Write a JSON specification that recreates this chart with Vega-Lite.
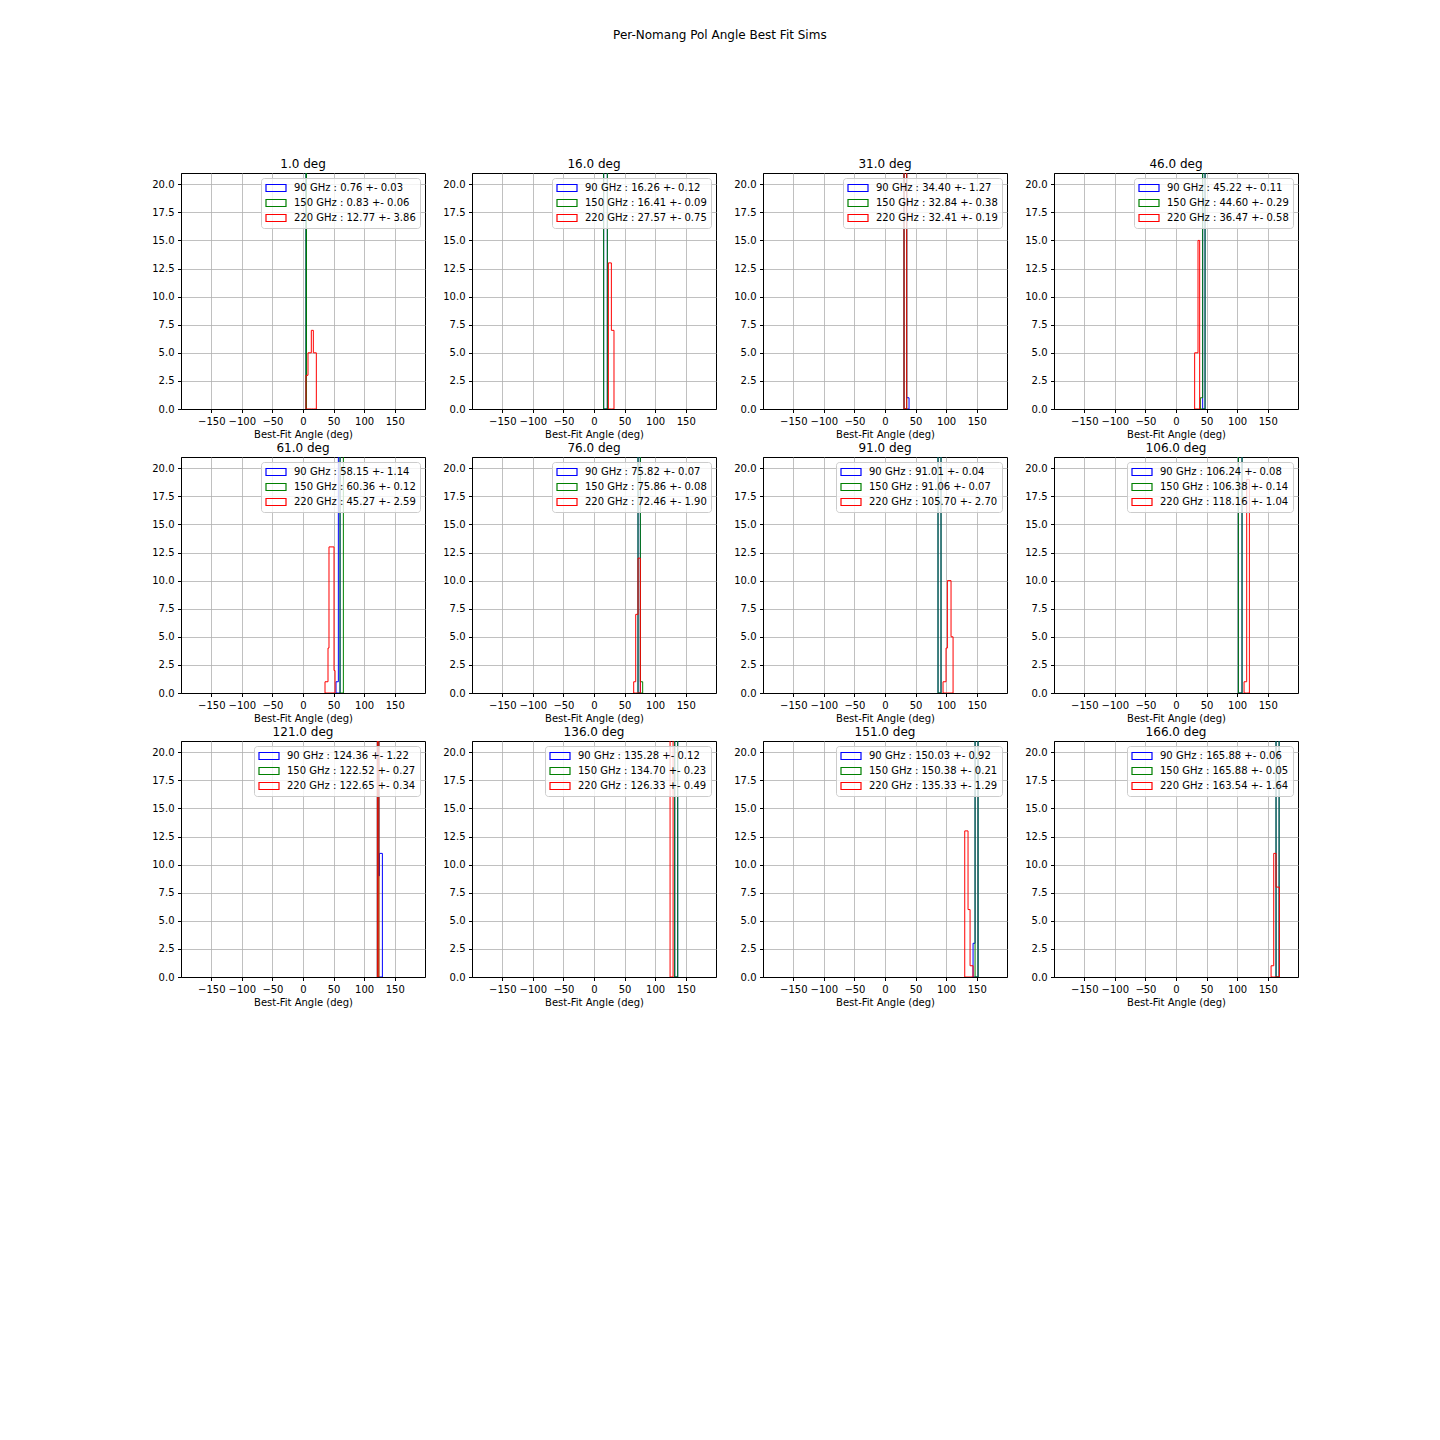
{
  "$schema": "https://vega.github.io/schema/vega-lite/v6.json",
  "background": "white",
  "padding": {"left": 151, "top": 28, "right": 140, "bottom": 20},
  "title": {"text": "Per-Nomang Pol Angle Best Fit Sims", "fontSize": 12, "font": "DejaVu Sans", "fontWeight": "normal", "color": "black", "anchor": "middle", "offset": 116, "dx": -5},
  "config": {
    "font": "DejaVu Sans",
    "view": {"stroke": "black", "strokeWidth": 1},
    "axis": {"labelFont": "DejaVu Sans", "labelFontSize": 10, "labelColor": "black", "titleFont": "DejaVu Sans", "titleFontSize": 10, "titleFontWeight": "normal", "titleColor": "black", "tickColor": "black", "tickSize": 3.5, "domainColor": "black", "gridColor": "#b0b0b0", "gridWidth": 0.8, "labelPadding": 3.5, "titlePadding": 3, "zindex": 1, "labelFlush": false, "labelOverlap": false},
    "title": {"font": "DejaVu Sans", "fontSize": 12, "fontWeight": "normal", "color": "black", "offset": 2},
    "legend": {"orient": "top-right", "offset": 5, "padding": 4, "fillColor": "rgba(255,255,255,0.8)", "strokeColor": "#cccccc", "cornerRadius": 3, "symbolSize": 100, "symbolStrokeWidth": 1.2, "symbolOffset": 5, "labelFont": "DejaVu Sans", "labelFontSize": 10, "labelColor": "black", "labelLimit": 300, "labelOffset": 12, "rowPadding": 3}
  },
  "data": {"values": [
    {"p":"1.0 deg","f":90,"lab":"90 GHz : 0.76 +- 0.03","x0":4.9,"x1":5.6,"n":50},
    {"p":"1.0 deg","f":150,"lab":"150 GHz : 0.83 +- 0.06","x0":4.9,"x1":5.6,"n":50},
    {"p":"1.0 deg","f":220,"lab":"220 GHz : 12.77 +- 3.86","x0":4.9,"x1":8.2,"n":3},
    {"p":"1.0 deg","f":220,"lab":"220 GHz : 12.77 +- 3.86","x0":8.2,"x1":13.6,"n":5},
    {"p":"1.0 deg","f":220,"lab":"220 GHz : 12.77 +- 3.86","x0":13.6,"x1":16.9,"n":7},
    {"p":"1.0 deg","f":220,"lab":"220 GHz : 12.77 +- 3.86","x0":16.9,"x1":21.8,"n":5},

    {"p":"16.0 deg","f":90,"lab":"90 GHz : 16.26 +- 0.12","x0":15.8,"x1":21.8,"n":50},
    {"p":"16.0 deg","f":150,"lab":"150 GHz : 16.41 +- 0.09","x0":15.8,"x1":21.8,"n":50},
    {"p":"16.0 deg","f":220,"lab":"220 GHz : 27.57 +- 0.75","x0":23.5,"x1":28.4,"n":13},
    {"p":"16.0 deg","f":220,"lab":"220 GHz : 27.57 +- 0.75","x0":28.4,"x1":32.7,"n":7},

    {"p":"31.0 deg","f":90,"lab":"90 GHz : 34.40 +- 1.27","x0":31.1,"x1":35.5,"n":49},
    {"p":"31.0 deg","f":90,"lab":"90 GHz : 34.40 +- 1.27","x0":35.5,"x1":39.3,"n":1},
    {"p":"31.0 deg","f":150,"lab":"150 GHz : 32.84 +- 0.38","x0":31.1,"x1":35.5,"n":50},
    {"p":"31.0 deg","f":220,"lab":"220 GHz : 32.41 +- 0.19","x0":31.1,"x1":35.5,"n":50},

    {"p":"46.0 deg","f":90,"lab":"90 GHz : 45.22 +- 0.11","x0":43.6,"x1":47.5,"n":50},
    {"p":"46.0 deg","f":150,"lab":"150 GHz : 44.60 +- 0.29","x0":39.8,"x1":43.6,"n":1},
    {"p":"46.0 deg","f":150,"lab":"150 GHz : 44.60 +- 0.29","x0":43.6,"x1":47.5,"n":49},
    {"p":"46.0 deg","f":220,"lab":"220 GHz : 36.47 +- 0.58","x0":30.5,"x1":36.0,"n":5},
    {"p":"46.0 deg","f":220,"lab":"220 GHz : 36.47 +- 0.58","x0":36.0,"x1":38.7,"n":15},

    {"p":"61.0 deg","f":90,"lab":"90 GHz : 58.15 +- 1.14","x0":54.0,"x1":57.8,"n":1},
    {"p":"61.0 deg","f":90,"lab":"90 GHz : 58.15 +- 1.14","x0":57.8,"x1":60.6,"n":49},
    {"p":"61.0 deg","f":150,"lab":"150 GHz : 60.36 +- 0.12","x0":60.6,"x1":66.0,"n":50},
    {"p":"61.0 deg","f":220,"lab":"220 GHz : 45.27 +- 2.59","x0":36.0,"x1":40.9,"n":1},
    {"p":"61.0 deg","f":220,"lab":"220 GHz : 45.27 +- 2.59","x0":40.9,"x1":42.5,"n":4},
    {"p":"61.0 deg","f":220,"lab":"220 GHz : 45.27 +- 2.59","x0":42.5,"x1":50.7,"n":13},
    {"p":"61.0 deg","f":220,"lab":"220 GHz : 45.27 +- 2.59","x0":50.7,"x1":52.4,"n":2},

    {"p":"76.0 deg","f":90,"lab":"90 GHz : 75.82 +- 0.07","x0":72.0,"x1":75.8,"n":50},
    {"p":"76.0 deg","f":150,"lab":"150 GHz : 75.86 +- 0.08","x0":72.0,"x1":75.8,"n":49},
    {"p":"76.0 deg","f":150,"lab":"150 GHz : 75.86 +- 0.08","x0":75.8,"x1":79.6,"n":1},
    {"p":"76.0 deg","f":220,"lab":"220 GHz : 72.46 +- 1.90","x0":64.9,"x1":68.2,"n":1},
    {"p":"76.0 deg","f":220,"lab":"220 GHz : 72.46 +- 1.90","x0":68.2,"x1":72.0,"n":7},
    {"p":"76.0 deg","f":220,"lab":"220 GHz : 72.46 +- 1.90","x0":72.0,"x1":75.8,"n":12},

    {"p":"91.0 deg","f":90,"lab":"90 GHz : 91.01 +- 0.04","x0":86.7,"x1":91.6,"n":50},
    {"p":"91.0 deg","f":150,"lab":"150 GHz : 91.06 +- 0.07","x0":86.7,"x1":91.6,"n":50},
    {"p":"91.0 deg","f":220,"lab":"220 GHz : 105.70 +- 2.70","x0":94.9,"x1":99.8,"n":1},
    {"p":"91.0 deg","f":220,"lab":"220 GHz : 105.70 +- 2.70","x0":99.8,"x1":102.0,"n":4},
    {"p":"91.0 deg","f":220,"lab":"220 GHz : 105.70 +- 2.70","x0":102.0,"x1":108.0,"n":10},
    {"p":"91.0 deg","f":220,"lab":"220 GHz : 105.70 +- 2.70","x0":108.0,"x1":111.3,"n":5},

    {"p":"106.0 deg","f":90,"lab":"90 GHz : 106.24 +- 0.08","x0":102.0,"x1":108.0,"n":50},
    {"p":"106.0 deg","f":150,"lab":"150 GHz : 106.38 +- 0.14","x0":102.0,"x1":108.0,"n":50},
    {"p":"106.0 deg","f":220,"lab":"220 GHz : 118.16 +- 1.04","x0":111.3,"x1":115.6,"n":1},
    {"p":"106.0 deg","f":220,"lab":"220 GHz : 118.16 +- 1.04","x0":115.6,"x1":120.0,"n":19},

    {"p":"121.0 deg","f":90,"lab":"90 GHz : 124.36 +- 1.22","x0":121.6,"x1":124.0,"n":30},
    {"p":"121.0 deg","f":90,"lab":"90 GHz : 124.36 +- 1.22","x0":124.0,"x1":124.9,"n":9},
    {"p":"121.0 deg","f":90,"lab":"90 GHz : 124.36 +- 1.22","x0":124.9,"x1":129.8,"n":11},
    {"p":"121.0 deg","f":150,"lab":"150 GHz : 122.52 +- 0.27","x0":121.6,"x1":124.0,"n":50},
    {"p":"121.0 deg","f":220,"lab":"220 GHz : 122.65 +- 0.34","x0":121.6,"x1":124.0,"n":50},

    {"p":"136.0 deg","f":90,"lab":"90 GHz : 135.28 +- 0.12","x0":132.0,"x1":136.9,"n":50},
    {"p":"136.0 deg","f":150,"lab":"150 GHz : 134.70 +- 0.23","x0":132.0,"x1":136.9,"n":50},
    {"p":"136.0 deg","f":220,"lab":"220 GHz : 126.33 +- 0.49","x0":124.4,"x1":129.3,"n":50},

    {"p":"151.0 deg","f":90,"lab":"90 GHz : 150.03 +- 0.92","x0":144.0,"x1":147.3,"n":3},
    {"p":"151.0 deg","f":90,"lab":"90 GHz : 150.03 +- 0.92","x0":147.3,"x1":152.2,"n":47},
    {"p":"151.0 deg","f":150,"lab":"150 GHz : 150.38 +- 0.21","x0":147.3,"x1":152.2,"n":50},
    {"p":"151.0 deg","f":220,"lab":"220 GHz : 135.33 +- 1.29","x0":130.4,"x1":135.8,"n":13},
    {"p":"151.0 deg","f":220,"lab":"220 GHz : 135.33 +- 1.29","x0":135.8,"x1":139.1,"n":6},
    {"p":"151.0 deg","f":220,"lab":"220 GHz : 135.33 +- 1.29","x0":139.1,"x1":144.0,"n":1},

    {"p":"166.0 deg","f":90,"lab":"90 GHz : 165.88 +- 0.06","x0":163.6,"x1":168.6,"n":50},
    {"p":"166.0 deg","f":150,"lab":"150 GHz : 165.88 +- 0.05","x0":163.6,"x1":168.6,"n":50},
    {"p":"166.0 deg","f":220,"lab":"220 GHz : 163.54 +- 1.64","x0":155.5,"x1":159.8,"n":1},
    {"p":"166.0 deg","f":220,"lab":"220 GHz : 163.54 +- 1.64","x0":159.8,"x1":163.6,"n":11},
    {"p":"166.0 deg","f":220,"lab":"220 GHz : 163.54 +- 1.64","x0":163.6,"x1":169.1,"n":8}
  ]},
  "columns": 4,
  "bounds": "flush",
  "spacing": {"row": 48, "column": 47},
  "resolve": {"scale": {"color": "independent"}, "legend": {"color": "independent"}},
  "concat": [
    {"width": 244, "height": 236, "title": "1.0 deg",
     "transform": [{"filter": "datum.p == '1.0 deg'"}, {"fold": ["x0", "x1"], "as": ["edge", "x"]}],
     "encoding": {
       "x": {"field": "x", "type": "quantitative", "scale": {"domain": [-199.5, 199.5], "nice": false, "zero": false}, "axis": {"values": [-150, -100, -50, 0, 50, 100, 150], "title": "Best-Fit Angle (deg)"}},
       "y": {"field": "n", "type": "quantitative", "stack": null, "scale": {"domain": [0, 21], "nice": false}, "axis": {"values": [0, 2.5, 5, 7.5, 10, 12.5, 15, 17.5, 20], "format": ".1f", "title": null}},
       "color": {"field": "lab", "type": "nominal", "scale": {"domain": ["90 GHz : 0.76 +- 0.03", "150 GHz : 0.83 +- 0.06", "220 GHz : 12.77 +- 3.86"], "range": ["blue", "green", "red"]}, "legend": {"title": null, "symbolType": "M-2,-0.7H2V0.7H-2Z"}},
       "order": [{"field": "x", "type": "quantitative"}, {"field": "edge", "type": "ordinal", "sort": "descending"}]
     },
     "layer": [
       {"transform": [{"filter": "datum.f == 90"}], "mark": {"type": "area", "filled": false, "clip": true, "strokeWidth": 1}},
       {"transform": [{"filter": "datum.f == 150"}], "mark": {"type": "area", "filled": false, "clip": true, "strokeWidth": 1}},
       {"transform": [{"filter": "datum.f == 220"}], "mark": {"type": "area", "filled": false, "clip": true, "strokeWidth": 1}}
     ]},
    {"width": 244, "height": 236, "title": "16.0 deg",
     "transform": [{"filter": "datum.p == '16.0 deg'"}, {"fold": ["x0", "x1"], "as": ["edge", "x"]}],
     "encoding": {
       "x": {"field": "x", "type": "quantitative", "scale": {"domain": [-199.5, 199.5], "nice": false, "zero": false}, "axis": {"values": [-150, -100, -50, 0, 50, 100, 150], "title": "Best-Fit Angle (deg)"}},
       "y": {"field": "n", "type": "quantitative", "stack": null, "scale": {"domain": [0, 21], "nice": false}, "axis": {"values": [0, 2.5, 5, 7.5, 10, 12.5, 15, 17.5, 20], "format": ".1f", "title": null}},
       "color": {"field": "lab", "type": "nominal", "scale": {"domain": ["90 GHz : 16.26 +- 0.12", "150 GHz : 16.41 +- 0.09", "220 GHz : 27.57 +- 0.75"], "range": ["blue", "green", "red"]}, "legend": {"title": null, "symbolType": "M-2,-0.7H2V0.7H-2Z"}},
       "order": [{"field": "x", "type": "quantitative"}, {"field": "edge", "type": "ordinal", "sort": "descending"}]
     },
     "layer": [
       {"transform": [{"filter": "datum.f == 90"}], "mark": {"type": "area", "filled": false, "clip": true, "strokeWidth": 1}},
       {"transform": [{"filter": "datum.f == 150"}], "mark": {"type": "area", "filled": false, "clip": true, "strokeWidth": 1}},
       {"transform": [{"filter": "datum.f == 220"}], "mark": {"type": "area", "filled": false, "clip": true, "strokeWidth": 1}}
     ]},
    {"width": 244, "height": 236, "title": "31.0 deg",
     "transform": [{"filter": "datum.p == '31.0 deg'"}, {"fold": ["x0", "x1"], "as": ["edge", "x"]}],
     "encoding": {
       "x": {"field": "x", "type": "quantitative", "scale": {"domain": [-199.5, 199.5], "nice": false, "zero": false}, "axis": {"values": [-150, -100, -50, 0, 50, 100, 150], "title": "Best-Fit Angle (deg)"}},
       "y": {"field": "n", "type": "quantitative", "stack": null, "scale": {"domain": [0, 21], "nice": false}, "axis": {"values": [0, 2.5, 5, 7.5, 10, 12.5, 15, 17.5, 20], "format": ".1f", "title": null}},
       "color": {"field": "lab", "type": "nominal", "scale": {"domain": ["90 GHz : 34.40 +- 1.27", "150 GHz : 32.84 +- 0.38", "220 GHz : 32.41 +- 0.19"], "range": ["blue", "green", "red"]}, "legend": {"title": null, "symbolType": "M-2,-0.7H2V0.7H-2Z"}},
       "order": [{"field": "x", "type": "quantitative"}, {"field": "edge", "type": "ordinal", "sort": "descending"}]
     },
     "layer": [
       {"transform": [{"filter": "datum.f == 90"}], "mark": {"type": "area", "filled": false, "clip": true, "strokeWidth": 1}},
       {"transform": [{"filter": "datum.f == 150"}], "mark": {"type": "area", "filled": false, "clip": true, "strokeWidth": 1}},
       {"transform": [{"filter": "datum.f == 220"}], "mark": {"type": "area", "filled": false, "clip": true, "strokeWidth": 1}}
     ]},
    {"width": 244, "height": 236, "title": "46.0 deg",
     "transform": [{"filter": "datum.p == '46.0 deg'"}, {"fold": ["x0", "x1"], "as": ["edge", "x"]}],
     "encoding": {
       "x": {"field": "x", "type": "quantitative", "scale": {"domain": [-199.5, 199.5], "nice": false, "zero": false}, "axis": {"values": [-150, -100, -50, 0, 50, 100, 150], "title": "Best-Fit Angle (deg)"}},
       "y": {"field": "n", "type": "quantitative", "stack": null, "scale": {"domain": [0, 21], "nice": false}, "axis": {"values": [0, 2.5, 5, 7.5, 10, 12.5, 15, 17.5, 20], "format": ".1f", "title": null}},
       "color": {"field": "lab", "type": "nominal", "scale": {"domain": ["90 GHz : 45.22 +- 0.11", "150 GHz : 44.60 +- 0.29", "220 GHz : 36.47 +- 0.58"], "range": ["blue", "green", "red"]}, "legend": {"title": null, "symbolType": "M-2,-0.7H2V0.7H-2Z"}},
       "order": [{"field": "x", "type": "quantitative"}, {"field": "edge", "type": "ordinal", "sort": "descending"}]
     },
     "layer": [
       {"transform": [{"filter": "datum.f == 90"}], "mark": {"type": "area", "filled": false, "clip": true, "strokeWidth": 1}},
       {"transform": [{"filter": "datum.f == 150"}], "mark": {"type": "area", "filled": false, "clip": true, "strokeWidth": 1}},
       {"transform": [{"filter": "datum.f == 220"}], "mark": {"type": "area", "filled": false, "clip": true, "strokeWidth": 1}}
     ]},
    {"width": 244, "height": 236, "title": "61.0 deg",
     "transform": [{"filter": "datum.p == '61.0 deg'"}, {"fold": ["x0", "x1"], "as": ["edge", "x"]}],
     "encoding": {
       "x": {"field": "x", "type": "quantitative", "scale": {"domain": [-199.5, 199.5], "nice": false, "zero": false}, "axis": {"values": [-150, -100, -50, 0, 50, 100, 150], "title": "Best-Fit Angle (deg)"}},
       "y": {"field": "n", "type": "quantitative", "stack": null, "scale": {"domain": [0, 21], "nice": false}, "axis": {"values": [0, 2.5, 5, 7.5, 10, 12.5, 15, 17.5, 20], "format": ".1f", "title": null}},
       "color": {"field": "lab", "type": "nominal", "scale": {"domain": ["90 GHz : 58.15 +- 1.14", "150 GHz : 60.36 +- 0.12", "220 GHz : 45.27 +- 2.59"], "range": ["blue", "green", "red"]}, "legend": {"title": null, "symbolType": "M-2,-0.7H2V0.7H-2Z"}},
       "order": [{"field": "x", "type": "quantitative"}, {"field": "edge", "type": "ordinal", "sort": "descending"}]
     },
     "layer": [
       {"transform": [{"filter": "datum.f == 90"}], "mark": {"type": "area", "filled": false, "clip": true, "strokeWidth": 1}},
       {"transform": [{"filter": "datum.f == 150"}], "mark": {"type": "area", "filled": false, "clip": true, "strokeWidth": 1}},
       {"transform": [{"filter": "datum.f == 220"}], "mark": {"type": "area", "filled": false, "clip": true, "strokeWidth": 1}}
     ]},
    {"width": 244, "height": 236, "title": "76.0 deg",
     "transform": [{"filter": "datum.p == '76.0 deg'"}, {"fold": ["x0", "x1"], "as": ["edge", "x"]}],
     "encoding": {
       "x": {"field": "x", "type": "quantitative", "scale": {"domain": [-199.5, 199.5], "nice": false, "zero": false}, "axis": {"values": [-150, -100, -50, 0, 50, 100, 150], "title": "Best-Fit Angle (deg)"}},
       "y": {"field": "n", "type": "quantitative", "stack": null, "scale": {"domain": [0, 21], "nice": false}, "axis": {"values": [0, 2.5, 5, 7.5, 10, 12.5, 15, 17.5, 20], "format": ".1f", "title": null}},
       "color": {"field": "lab", "type": "nominal", "scale": {"domain": ["90 GHz : 75.82 +- 0.07", "150 GHz : 75.86 +- 0.08", "220 GHz : 72.46 +- 1.90"], "range": ["blue", "green", "red"]}, "legend": {"title": null, "symbolType": "M-2,-0.7H2V0.7H-2Z"}},
       "order": [{"field": "x", "type": "quantitative"}, {"field": "edge", "type": "ordinal", "sort": "descending"}]
     },
     "layer": [
       {"transform": [{"filter": "datum.f == 90"}], "mark": {"type": "area", "filled": false, "clip": true, "strokeWidth": 1}},
       {"transform": [{"filter": "datum.f == 150"}], "mark": {"type": "area", "filled": false, "clip": true, "strokeWidth": 1}},
       {"transform": [{"filter": "datum.f == 220"}], "mark": {"type": "area", "filled": false, "clip": true, "strokeWidth": 1}}
     ]},
    {"width": 244, "height": 236, "title": "91.0 deg",
     "transform": [{"filter": "datum.p == '91.0 deg'"}, {"fold": ["x0", "x1"], "as": ["edge", "x"]}],
     "encoding": {
       "x": {"field": "x", "type": "quantitative", "scale": {"domain": [-199.5, 199.5], "nice": false, "zero": false}, "axis": {"values": [-150, -100, -50, 0, 50, 100, 150], "title": "Best-Fit Angle (deg)"}},
       "y": {"field": "n", "type": "quantitative", "stack": null, "scale": {"domain": [0, 21], "nice": false}, "axis": {"values": [0, 2.5, 5, 7.5, 10, 12.5, 15, 17.5, 20], "format": ".1f", "title": null}},
       "color": {"field": "lab", "type": "nominal", "scale": {"domain": ["90 GHz : 91.01 +- 0.04", "150 GHz : 91.06 +- 0.07", "220 GHz : 105.70 +- 2.70"], "range": ["blue", "green", "red"]}, "legend": {"title": null, "symbolType": "M-2,-0.7H2V0.7H-2Z"}},
       "order": [{"field": "x", "type": "quantitative"}, {"field": "edge", "type": "ordinal", "sort": "descending"}]
     },
     "layer": [
       {"transform": [{"filter": "datum.f == 90"}], "mark": {"type": "area", "filled": false, "clip": true, "strokeWidth": 1}},
       {"transform": [{"filter": "datum.f == 150"}], "mark": {"type": "area", "filled": false, "clip": true, "strokeWidth": 1}},
       {"transform": [{"filter": "datum.f == 220"}], "mark": {"type": "area", "filled": false, "clip": true, "strokeWidth": 1}}
     ]},
    {"width": 244, "height": 236, "title": "106.0 deg",
     "transform": [{"filter": "datum.p == '106.0 deg'"}, {"fold": ["x0", "x1"], "as": ["edge", "x"]}],
     "encoding": {
       "x": {"field": "x", "type": "quantitative", "scale": {"domain": [-199.5, 199.5], "nice": false, "zero": false}, "axis": {"values": [-150, -100, -50, 0, 50, 100, 150], "title": "Best-Fit Angle (deg)"}},
       "y": {"field": "n", "type": "quantitative", "stack": null, "scale": {"domain": [0, 21], "nice": false}, "axis": {"values": [0, 2.5, 5, 7.5, 10, 12.5, 15, 17.5, 20], "format": ".1f", "title": null}},
       "color": {"field": "lab", "type": "nominal", "scale": {"domain": ["90 GHz : 106.24 +- 0.08", "150 GHz : 106.38 +- 0.14", "220 GHz : 118.16 +- 1.04"], "range": ["blue", "green", "red"]}, "legend": {"title": null, "symbolType": "M-2,-0.7H2V0.7H-2Z"}},
       "order": [{"field": "x", "type": "quantitative"}, {"field": "edge", "type": "ordinal", "sort": "descending"}]
     },
     "layer": [
       {"transform": [{"filter": "datum.f == 90"}], "mark": {"type": "area", "filled": false, "clip": true, "strokeWidth": 1}},
       {"transform": [{"filter": "datum.f == 150"}], "mark": {"type": "area", "filled": false, "clip": true, "strokeWidth": 1}},
       {"transform": [{"filter": "datum.f == 220"}], "mark": {"type": "area", "filled": false, "clip": true, "strokeWidth": 1}}
     ]},
    {"width": 244, "height": 236, "title": "121.0 deg",
     "transform": [{"filter": "datum.p == '121.0 deg'"}, {"fold": ["x0", "x1"], "as": ["edge", "x"]}],
     "encoding": {
       "x": {"field": "x", "type": "quantitative", "scale": {"domain": [-199.5, 199.5], "nice": false, "zero": false}, "axis": {"values": [-150, -100, -50, 0, 50, 100, 150], "title": "Best-Fit Angle (deg)"}},
       "y": {"field": "n", "type": "quantitative", "stack": null, "scale": {"domain": [0, 21], "nice": false}, "axis": {"values": [0, 2.5, 5, 7.5, 10, 12.5, 15, 17.5, 20], "format": ".1f", "title": null}},
       "color": {"field": "lab", "type": "nominal", "scale": {"domain": ["90 GHz : 124.36 +- 1.22", "150 GHz : 122.52 +- 0.27", "220 GHz : 122.65 +- 0.34"], "range": ["blue", "green", "red"]}, "legend": {"title": null, "symbolType": "M-2,-0.7H2V0.7H-2Z"}},
       "order": [{"field": "x", "type": "quantitative"}, {"field": "edge", "type": "ordinal", "sort": "descending"}]
     },
     "layer": [
       {"transform": [{"filter": "datum.f == 90"}], "mark": {"type": "area", "filled": false, "clip": true, "strokeWidth": 1}},
       {"transform": [{"filter": "datum.f == 150"}], "mark": {"type": "area", "filled": false, "clip": true, "strokeWidth": 1}},
       {"transform": [{"filter": "datum.f == 220"}], "mark": {"type": "area", "filled": false, "clip": true, "strokeWidth": 1}}
     ]},
    {"width": 244, "height": 236, "title": "136.0 deg",
     "transform": [{"filter": "datum.p == '136.0 deg'"}, {"fold": ["x0", "x1"], "as": ["edge", "x"]}],
     "encoding": {
       "x": {"field": "x", "type": "quantitative", "scale": {"domain": [-199.5, 199.5], "nice": false, "zero": false}, "axis": {"values": [-150, -100, -50, 0, 50, 100, 150], "title": "Best-Fit Angle (deg)"}},
       "y": {"field": "n", "type": "quantitative", "stack": null, "scale": {"domain": [0, 21], "nice": false}, "axis": {"values": [0, 2.5, 5, 7.5, 10, 12.5, 15, 17.5, 20], "format": ".1f", "title": null}},
       "color": {"field": "lab", "type": "nominal", "scale": {"domain": ["90 GHz : 135.28 +- 0.12", "150 GHz : 134.70 +- 0.23", "220 GHz : 126.33 +- 0.49"], "range": ["blue", "green", "red"]}, "legend": {"title": null, "symbolType": "M-2,-0.7H2V0.7H-2Z"}},
       "order": [{"field": "x", "type": "quantitative"}, {"field": "edge", "type": "ordinal", "sort": "descending"}]
     },
     "layer": [
       {"transform": [{"filter": "datum.f == 90"}], "mark": {"type": "area", "filled": false, "clip": true, "strokeWidth": 1}},
       {"transform": [{"filter": "datum.f == 150"}], "mark": {"type": "area", "filled": false, "clip": true, "strokeWidth": 1}},
       {"transform": [{"filter": "datum.f == 220"}], "mark": {"type": "area", "filled": false, "clip": true, "strokeWidth": 1}}
     ]},
    {"width": 244, "height": 236, "title": "151.0 deg",
     "transform": [{"filter": "datum.p == '151.0 deg'"}, {"fold": ["x0", "x1"], "as": ["edge", "x"]}],
     "encoding": {
       "x": {"field": "x", "type": "quantitative", "scale": {"domain": [-199.5, 199.5], "nice": false, "zero": false}, "axis": {"values": [-150, -100, -50, 0, 50, 100, 150], "title": "Best-Fit Angle (deg)"}},
       "y": {"field": "n", "type": "quantitative", "stack": null, "scale": {"domain": [0, 21], "nice": false}, "axis": {"values": [0, 2.5, 5, 7.5, 10, 12.5, 15, 17.5, 20], "format": ".1f", "title": null}},
       "color": {"field": "lab", "type": "nominal", "scale": {"domain": ["90 GHz : 150.03 +- 0.92", "150 GHz : 150.38 +- 0.21", "220 GHz : 135.33 +- 1.29"], "range": ["blue", "green", "red"]}, "legend": {"title": null, "symbolType": "M-2,-0.7H2V0.7H-2Z"}},
       "order": [{"field": "x", "type": "quantitative"}, {"field": "edge", "type": "ordinal", "sort": "descending"}]
     },
     "layer": [
       {"transform": [{"filter": "datum.f == 90"}], "mark": {"type": "area", "filled": false, "clip": true, "strokeWidth": 1}},
       {"transform": [{"filter": "datum.f == 150"}], "mark": {"type": "area", "filled": false, "clip": true, "strokeWidth": 1}},
       {"transform": [{"filter": "datum.f == 220"}], "mark": {"type": "area", "filled": false, "clip": true, "strokeWidth": 1}}
     ]},
    {"width": 244, "height": 236, "title": "166.0 deg",
     "transform": [{"filter": "datum.p == '166.0 deg'"}, {"fold": ["x0", "x1"], "as": ["edge", "x"]}],
     "encoding": {
       "x": {"field": "x", "type": "quantitative", "scale": {"domain": [-199.5, 199.5], "nice": false, "zero": false}, "axis": {"values": [-150, -100, -50, 0, 50, 100, 150], "title": "Best-Fit Angle (deg)"}},
       "y": {"field": "n", "type": "quantitative", "stack": null, "scale": {"domain": [0, 21], "nice": false}, "axis": {"values": [0, 2.5, 5, 7.5, 10, 12.5, 15, 17.5, 20], "format": ".1f", "title": null}},
       "color": {"field": "lab", "type": "nominal", "scale": {"domain": ["90 GHz : 165.88 +- 0.06", "150 GHz : 165.88 +- 0.05", "220 GHz : 163.54 +- 1.64"], "range": ["blue", "green", "red"]}, "legend": {"title": null, "symbolType": "M-2,-0.7H2V0.7H-2Z"}},
       "order": [{"field": "x", "type": "quantitative"}, {"field": "edge", "type": "ordinal", "sort": "descending"}]
     },
     "layer": [
       {"transform": [{"filter": "datum.f == 90"}], "mark": {"type": "area", "filled": false, "clip": true, "strokeWidth": 1}},
       {"transform": [{"filter": "datum.f == 150"}], "mark": {"type": "area", "filled": false, "clip": true, "strokeWidth": 1}},
       {"transform": [{"filter": "datum.f == 220"}], "mark": {"type": "area", "filled": false, "clip": true, "strokeWidth": 1}}
     ]}
  ]
}
